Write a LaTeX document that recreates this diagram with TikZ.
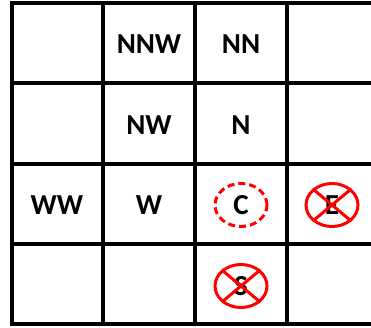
\documentclass[tikz,border=0pt]{standalone}
\usepackage{fontspec}
\setmainfont{Carlito}
\usetikzlibrary{shapes.geometric}
\definecolor{gridK}{RGB}{0,0,0}
\definecolor{markR}{RGB}{255,0,0}
\tikzset{
  lbl/.style={font=\fontsize{29}{31}\selectfont\bfseries,inner sep=0pt},
  ring/.style={draw=markR,ellipse,line width=3pt,minimum width=52pt,minimum height=43pt,inner sep=0pt},
}

\begin{document}
\begin{tikzpicture}[x=1pt,y=-1pt]
\useasboundingbox (0,0) rectangle (371,328);
\foreach \gx in {12,103,195,287} \draw[gridK,line width=3.8pt] (\gx,3)--(\gx,324);
\foreach \gy in {3,83,164,244,324} \draw[gridK,line width=3.8pt] (10.1,\gy)--(375,\gy);
\node[lbl] (nnw) at (149,44) {NNW};
\node[lbl] (nn) at (241,44) {NN};
\node[lbl] (nw) at (149,125) {NW};
\node[lbl] (n) at (241,125) {N};
\node[lbl] (ww) at (57,205) {WW};
\node[lbl] (w) at (149,205) {W};
\node[lbl] (c) at (241,205) {C};
\node[lbl] (e) at (332,205) {E};
\node[lbl] (s) at (241,286) {S};
\node[ring,dashed,dash pattern=on 7pt off 4pt] (cring) at (c) {};
\node[ring] (ering) at (e) {};
\node[ring] (sring) at (s) {};
\draw[markR,line width=3pt] (ering.north west)--(ering.south east) (ering.north east)--(ering.south west);
\draw[markR,line width=3pt] (sring.north west)--(sring.south east) (sring.north east)--(sring.south west);
\end{tikzpicture}
\end{document}
